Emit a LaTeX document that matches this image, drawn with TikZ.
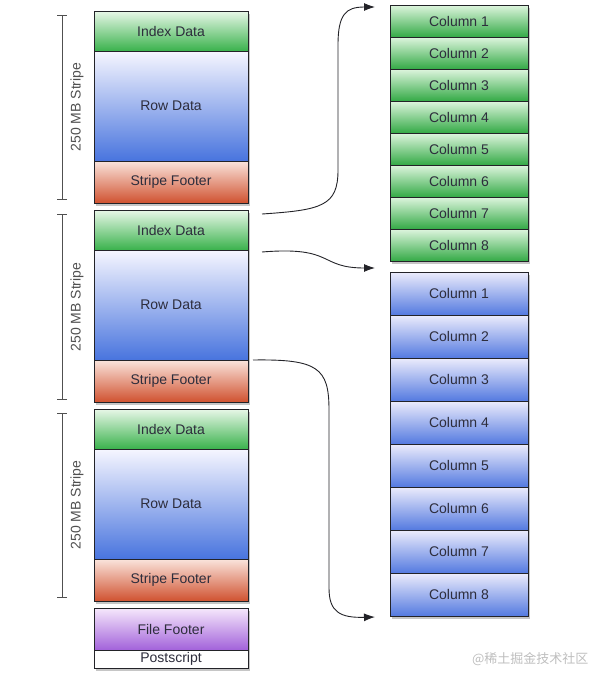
\documentclass[tikz,border=0pt]{standalone}
\usepackage{fontspec}
\setmainfont{Liberation Sans}
\newfontfamily\cjk{Noto Sans CJK SC}
\usepackage{xcolor}
\usepackage{tikz}
\usetikzlibrary{arrows.meta,positioning,shadows}
\definecolor{idxTop}{RGB}{232,247,232}
\definecolor{idxBot}{RGB}{58,178,76}
\definecolor{rowTop}{RGB}{246,246,255}
\definecolor{rowBot}{RGB}{72,116,222}
\definecolor{ftrTop}{RGB}{250,228,220}
\definecolor{ftrBot}{RGB}{208,82,48}
\definecolor{fileTop}{RGB}{246,232,252}
\definecolor{fileBot}{RGB}{162,98,218}
\definecolor{colGreenTop}{RGB}{222,245,222}
\definecolor{colGreenBot}{RGB}{52,170,70}
\definecolor{colBlueTop}{RGB}{236,236,252}
\definecolor{colBlueBot}{RGB}{84,122,224}
\definecolor{blkBorder}{RGB}{35,35,40}
\definecolor{blkText}{RGB}{45,45,60}
\definecolor{barGray}{RGB}{80,80,80}
\definecolor{wmGray}{RGB}{190,190,190}

\begin{document}
\begin{tikzpicture}[x=1pt,y=-1pt,
  blk/.style={draw=blkBorder, line width=1pt, inner sep=0pt, outer sep=0pt,
    text=blkText, font=\fontsize{14}{16}\selectfont,
    drop shadow={shadow xshift=2pt, shadow yshift=-2.5pt, opacity=0.45}},
  lblk/.style={blk, minimum width=154pt},
  idxbox/.style={lblk, minimum height=40pt, top color=idxTop, bottom color=idxBot},
  rowbox/.style={lblk, minimum height=110pt, top color=rowTop, bottom color=rowBot},
  ftrbox/.style={lblk, minimum height=42pt, top color=ftrTop, bottom color=ftrBot},
  filebox/.style={lblk, minimum height=42pt, top color=fileTop, bottom color=fileBot},
  psbox/.style={lblk, minimum height=18pt, fill=white},
  gcol/.style={blk, minimum width=138pt, minimum height=32pt, top color=colGreenTop, bottom color=colGreenBot},
  bcol/.style={blk, minimum width=138pt, minimum height=43pt, top color=colBlueTop, bottom color=colBlueBot},
  sbar/.style={draw=barGray, line width=1pt, {Bar[width=10pt]}-{Bar[width=10pt]}},
  slbl/.style={rotate=90, text=barGray, font=\fontsize{14}{16}\selectfont},
  link/.style={draw=blkBorder, line width=0.9pt, -{Latex[length=11pt,width=8pt]}}]
\useasboundingbox (0,0) rectangle (608,683);

% left: three stripes and the file tail
\node[idxbox, anchor=north west] (idxA) at (94,11) {Index Data};
\node[rowbox, below=0pt of idxA] (rowA) {Row Data};
\node[ftrbox, below=0pt of rowA] (ftrA) {Stripe Footer};
\node[idxbox, below=7pt of ftrA] (idxB) {Index Data};
\node[rowbox, below=0pt of idxB] (rowB) {Row Data};
\node[ftrbox, below=0pt of rowB] (ftrB) {Stripe Footer};
\node[idxbox, below=7pt of ftrB] (idxC) {Index Data};
\node[rowbox, below=0pt of idxC] (rowC) {Row Data};
\node[ftrbox, below=0pt of rowC] (ftrC) {Stripe Footer};
\node[filebox, below=7pt of ftrC] (fileF) {File Footer};
\node[psbox, below=0pt of fileF] (postS) {Postscript};

% stripe size bars
\draw[sbar] (62,15) -- (62,200);
\node[slbl] (lblA) at (77,107) {250 MB Stripe};
\draw[sbar] (62,214) -- (62,400);
\node[slbl] (lblB) at (77,307) {250 MB Stripe};
\draw[sbar] (62,413) -- (62,598);
\node[slbl] (lblC) at (77,505) {250 MB Stripe};

% right: index and row columns
\node[gcol, anchor=north west] (gc1) at (390,5) {Column 1};
\foreach \i [remember=\i as \prev (initially 1)] in {2,...,8}
  \node[gcol, below=0pt of gc\prev] (gc\i) {Column \i};
\node[bcol, anchor=north west] (bc1) at (390,272) {Column 1};
\foreach \i [remember=\i as \prev (initially 1)] in {2,...,8}
  \node[bcol, below=0pt of bc\prev] (bc\i) {Column \i};

% links
\draw[link] ([shift={(14,4)}]idxB.north east)
  .. controls (322,210) and (338,206) .. (338,170) -- (338,45)
  .. controls (338,14) and (346,7) .. ([shift={(-15,2)}]gc1.north west);
\draw[link] ([shift={(14,2)}]idxB.south east)
  .. controls (335,246) and (318,268) .. ([shift={(-15,-4)}]bc1.north west);
\draw[link] ([shift={(5,0)}]rowB.south east)
  .. controls (318,359) and (329,368) .. (329,410) -- (329,588)
  .. controls (329,612) and (340,618) .. ([shift={(-15,1)}]bc8.south west);

\node[text=wmGray, font=\cjk\fontsize{13}{15}\selectfont, anchor=east] (wmark) at (592,659) {@稀土掘金技术社区};
\end{tikzpicture}
\end{document}
